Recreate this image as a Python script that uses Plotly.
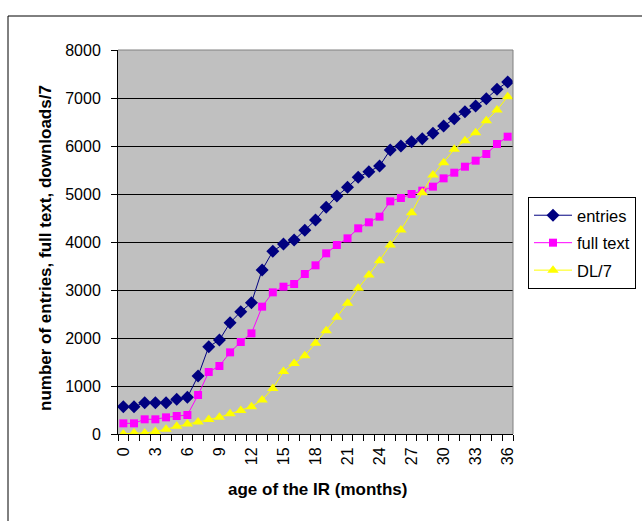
import plotly.graph_objects as go

# age of the repository in months
months = list(range(0, 37))

entries = [569, 569, 653, 653, 653, 722, 764, 1208, 1819, 1958, 2319, 2549, 2736,
           3417, 3806, 3958, 4042, 4245, 4458, 4722, 4958, 5139, 5347, 5465, 5583,
           5917, 6000, 6090, 6153, 6264, 6417, 6569, 6715, 6833, 6986, 7181, 7333]

full_text = [222, 222, 306, 306, 347, 375, 396, 812, 1292, 1417, 1701, 1917, 2097,
             2653, 2951, 3069, 3125, 3333, 3514, 3764, 3938, 4076, 4285, 4410, 4528,
             4847, 4917, 5000, 5069, 5153, 5326, 5444, 5569, 5694, 5833, 6042, 6194]

dl7 = [0, 20, 20, 50, 100, 160, 210, 250, 300, 350, 420, 490, 570,
       710, 950, 1300, 1470, 1630, 1890, 2153, 2431, 2722, 3035, 3313, 3611,
       3938, 4250, 4611, 5028, 5396, 5653, 5931, 6111, 6278, 6528, 6750, 7028]

x_tick_vals = list(range(0, 37, 3))
x_tick_text = [str(v) for v in x_tick_vals]
y_tick_vals = list(range(0, 8001, 1000))

W, H = 642, 521
L, R, T, B = 118, 513, 50, 434  # plot area in pixels


def px_x(px):
    return (px - L) / (R - L)


def px_y(py):
    return (B - py) / (B - T)


font = "Arial, Liberation Sans, sans-serif"

fig = go.Figure()
fig.add_trace(go.Scatter(
    x=months, y=entries, name="entries", mode="lines+markers", legendgroup="a",
    line=dict(color="#000080", width=1),
    marker=dict(symbol="diamond", size=10, color="#000080")))
fig.add_trace(go.Scatter(
    x=months, y=full_text, name="full text", mode="lines+markers", legendgroup="b",
    line=dict(color="#FF00FF", width=1),
    marker=dict(symbol="square", size=8, color="#FF00FF")))
fig.add_trace(go.Scatter(
    x=months, y=dl7, name="DL/7", mode="lines+markers", legendgroup="c",
    line=dict(color="#FFFF00", width=1),
    marker=dict(symbol="triangle-up", size=10, color="#FFFF00")))

fig.update_layout(
    width=W, height=H,
    margin=dict(l=L, r=W - R, t=T, b=H - B, pad=0, autoexpand=False),
    paper_bgcolor="white",
    plot_bgcolor="#C0C0C0",
    font=dict(family=font, size=16, color="black"),
    showlegend=True,
    legend=dict(x=px_x(528), y=px_y(197), xanchor="left", yanchor="top",
                bordercolor="black", borderwidth=1, bgcolor="white",
                font=dict(family=font, size=16.5), itemwidth=38,
                tracegroupgap=3),
    xaxis=dict(range=[-0.5, 36.5], tickvals=x_tick_vals, ticktext=x_tick_text,
               tickangle=-90, ticks="", showgrid=False, zeroline=False,
               showline=True, linecolor="black", linewidth=1, mirror=False,
               tickfont=dict(family=font, size=16), ticklabelstandoff=6,
               automargin=False,
               minor=dict(tick0=-0.5, dtick=1, ticks="outside", ticklen=6,
                          tickcolor="black", showgrid=False)),
    yaxis=dict(range=[0, 8000], tickvals=y_tick_vals, ticks="outside",
               ticklen=6, tickcolor="black", showgrid=True,
               gridcolor="black", gridwidth=1, zeroline=False,
               showline=True, linecolor="black", linewidth=1,
               automargin=False,
               tickfont=dict(family=font, size=16), ticklabelstandoff=7),
)

# gray frame on the top and right of the plot area
fig.add_shape(type="line", xref="paper", yref="paper", x0=0, x1=1, y0=1, y1=1,
              line=dict(color="#808080", width=1))
fig.add_shape(type="line", xref="paper", yref="paper", x0=1, x1=1, y0=0, y1=1,
              line=dict(color="#808080", width=1))

# outer chart border
fig.add_shape(type="rect", xref="paper", yref="paper",
              x0=px_x(8), x1=px_x(660), y0=px_y(540), y1=px_y(16),
              line=dict(color="black", width=1), layer="below")

fig.add_annotation(text="<b>age of the IR (months)</b>", xref="paper", yref="paper",
                   x=px_x(317), y=px_y(489), xanchor="center", yanchor="middle",
                   showarrow=False, font=dict(family=font, size=17))
fig.add_annotation(text="<b>number of entries, full text, downloads/7</b>",
                   xref="paper", yref="paper", x=px_x(45), y=px_y(248),
                   xanchor="center", yanchor="middle",
                   textangle=-90, showarrow=False,
                   font=dict(family=font, size=17))

fig.write_html("out.html")
